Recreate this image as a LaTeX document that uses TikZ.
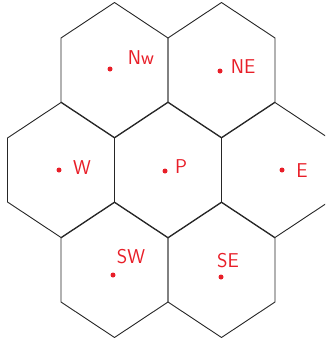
\documentclass[tikz,border=0pt]{standalone}
\usetikzlibrary{positioning}
\definecolor{penred}{RGB}{232,30,40}
\begin{document}
\begin{tikzpicture}[x=1pt, y=-1pt,
  hexline/.style={line width=0.9pt, black!85, line join=round},
  dot/.style={circle, fill=penred, inner sep=0pt, minimum size=5pt},
  dirlabel/.style={text=penred, font=\sffamily\fontsize{20}{20}\selectfont, inner sep=0pt}
]
  \useasboundingbox (0,0) rectangle (325,343);
  \clip (0,0) rectangle (325,343);
  % hex cells, centre of each
  \foreach \cx/\cy in {114.5/70, 221.5/70, 61/170, 168/170, 275/170, 114.5/270, 221.5/270}
    \draw[hexline] (\cx,\cy-67.5) -- ++(53.5,35.5) -- ++(0,64) -- ++(-53.5,35.5)
      -- ++(-53.5,-35.5) -- ++(0,-64) -- cycle;

  % points
  \node[dot] (nw) at (110,69) {};
  \node[dot] (ne) at (220,71) {};
  \node[dot] (w) at (59,170) {};
  \node[dot] (p) at (165,171) {};
  \node[dot] (e) at (282,170) {};
  \node[dot] (sw) at (113,275) {};
  \node[dot] (se) at (221,277) {};

  % labels
  \node[dirlabel] (nwtext) at (141,58) {Nw};
  \node[dirlabel] (netext) at (243,67) {NE};
  \node[dirlabel] (wtext) at (82,168) {W};
  \node[dirlabel] (ptext) at (181,167) {P};
  \node[dirlabel] (etext) at (302,171) {E};
  \node[dirlabel] (swtext) at (131,257) {SW};
  \node[dirlabel] (setext) at (228,261) {SE};
\end{tikzpicture}
\end{document}
